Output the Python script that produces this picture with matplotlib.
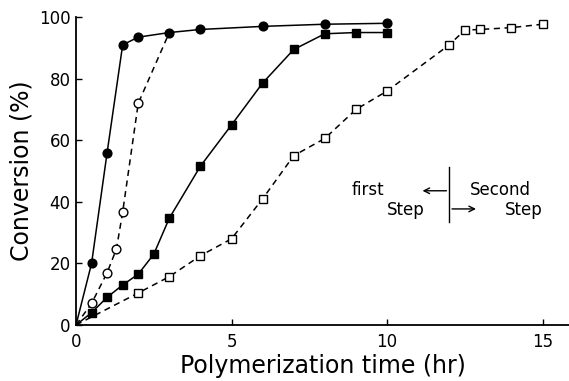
import numpy as np
import matplotlib.pyplot as plt

# first step, catalyst A (filled circles, solid)
t_a = [0, 0.5, 1.0, 1.5, 2.0, 3.0, 4.0, 6.0, 8.0, 10.0]
conv_a = [0, 20, 56, 91, 93.5, 95, 96, 97, 97.7, 98]

# first step, catalyst B (open circles, dashed) - joins curve A at 3 hr
t_b = [0, 0.5, 1.0, 1.3, 1.5, 2.0, 3.0]
conv_b = [0, 7, 17, 24.7, 36.7, 72, 95]

# filled squares, solid
t_c = [0, 0.5, 1.0, 1.5, 2.0, 2.5, 3.0, 4.0, 5.0, 6.0, 7.0, 8.0, 9.0, 10.0]
conv_c = [0, 4, 9, 13, 16.5, 23, 34.7, 51.6, 65, 78.6, 89.5, 94.6, 95, 95]

# open squares, dashed (runs into the second step)
t_d = [0, 2, 3, 4, 5, 6, 7, 8, 9, 10, 12, 12.5, 13, 14, 15]
conv_d = [0, 10.4, 15.7, 22.5, 28, 41, 55, 60.6, 70, 76, 91, 95.8, 96, 96.6, 97.7]

xticks = [0, 5, 10, 15]
yticks = [0, 20, 40, 60, 80, 100]

plt.rcParams['font.family'] = 'DejaVu Sans'

fig = plt.figure(figsize=(5.69, 3.81), dpi=100)
ax = fig.add_axes([0.1336, 0.147, 0.8664, 0.808])

kw = dict(color='black', lw=1.1, ms=6.3, clip_on=False)
ax.plot(t_d, conv_d, ls=(0, (4, 3)), marker='s', mfc='white', markevery=list(range(1, len(t_d))), **kw)
ax.plot(t_b, conv_b, ls=(0, (4, 3)), marker='o', mfc='white', markevery=[1, 2, 3, 4, 5], **kw)
ax.plot(t_c, conv_c, ls='-', marker='s', mfc='black', markevery=list(range(1, len(t_c))), **kw)
ax.plot(t_a, conv_a, ls='-', marker='o', mfc='black', markevery=list(range(1, len(t_a))), **kw)

# boundary between the two polymerization steps
ax.plot([12, 12], [33.4, 51.3], color='black', lw=1.0)
ax.annotate('', xy=(11.05, 43.6), xytext=(12, 43.6),
            arrowprops=dict(arrowstyle='->', color='black', lw=1.0))
ax.annotate('', xy=(12.95, 37.7), xytext=(12, 37.7),
            arrowprops=dict(arrowstyle='->', color='black', lw=1.0))
ax.text(9.4, 43.8, 'first', ha='center', va='center', fontsize=12)
ax.text(10.6, 37.5, 'Step', ha='center', va='center', fontsize=12)
ax.text(13.65, 43.8, 'Second', ha='center', va='center', fontsize=12)
ax.text(14.4, 37.5, 'Step', ha='center', va='center', fontsize=12)

ax.set_xlim(0, 15.85)
ax.set_ylim(0, 100)
ax.set_xticks(xticks)
ax.set_yticks(yticks)
ax.set_xticklabels([str(v) for v in xticks])
ax.set_yticklabels([str(v) for v in yticks])
ax.tick_params(direction='in', length=4, width=1, labelsize=12)
ax.tick_params(axis='x', pad=6)
ax.tick_params(axis='y', pad=4)
ax.spines['top'].set_visible(False)
ax.spines['right'].set_visible(False)
for s in ('left', 'bottom'):
    ax.spines[s].set_linewidth(1.3)

ax.set_xlabel('Polymerization time (hr)', fontsize=17, labelpad=2)
ax.set_ylabel('Conversion (%)', fontsize=17, labelpad=4)

fig.savefig('out.png', dpi=100)
